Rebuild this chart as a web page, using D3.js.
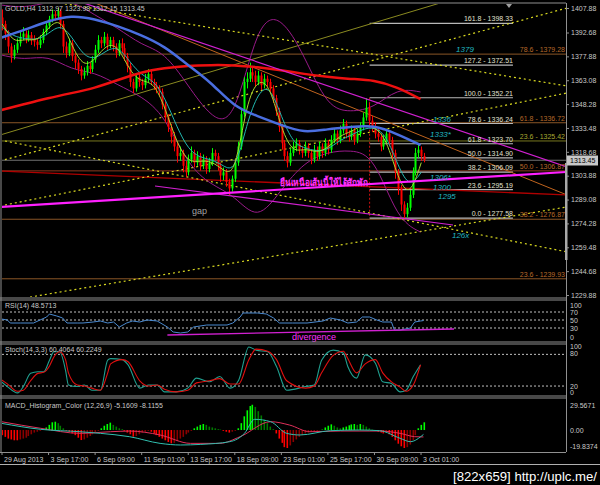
<!DOCTYPE html>
<html><head><meta charset="utf-8">
<script src="https://cdn.jsdelivr.net/npm/d3@7"></script>
<style>body{margin:0;background:#000;}svg{display:block;}text{font-family:"Liberation Sans",Arial,sans-serif;}</style>
</head><body>
<svg id="c" width="600" height="485"></svg>
<script>
// ---------------- DATA ----------------
const closes = [1398,1392,1384,1378,1382,1386,1390,1392,1389,1391,1388,1387,1385,1388,1393,1397,1401,1404,1403,1406,
1398,1384,1380,1386,1378,1374,1370,1366,1368,1372,1370,1376,1382,1388,1386,1390,1385,1388,1384,1380,
1386,1383,1378,1372,1362,1358,1365,1362,1360,1364,1367,1362,1360,1358,1356,1348,1340,1334,1328,1322,
1316,1318,1310,1306,1314,1318,1312,1316,1310,1314,1308,1312,1318,1316,1310,1304,1306,1300,1296,1302,
1312,1322,1342,1362,1364,1368,1366,1362,1366,1360,1364,1362,1358,1352,1344,1334,1324,1316,1312,1318,
1322,1324,1320,1318,1322,1318,1314,1320,1316,1322,1318,1324,1320,1326,1330,1326,1332,1336,1330,1328,
1332,1326,1330,1334,1340,1346,1338,1334,1330,1328,1322,1326,1330,1326,1318,1306,1296,1286,1280,1284,
1292,1306,1318,1320,1316,1313.45];
const firstOpen = 1402;
const highs = [1407,1400,1394,1386,1385,1389,1393,1396,1394,1394,1393,1391,1389,1391,1395,1399,1403,1407,1406,1408,
1407,1400,1387,1389,1388,1380,1376,1372,1371,1375,1374,1378,1385,1391,1390,1393,1392,1390,1390,1386,
1388,1389,1386,1380,1374,1364,1367,1367,1364,1367,1370,1369,1364,1362,1360,1358,1350,1342,1336,1331,
1325,1322,1320,1313,1317,1322,1320,1319,1318,1317,1316,1315,1321,1320,1318,1312,1309,1308,1302,1304,
1314,1325,1345,1365,1368,1374,1372,1369,1369,1368,1367,1366,1364,1360,1354,1346,1336,1326,1319,1321,
1325,1327,1326,1322,1325,1324,1320,1323,1322,1325,1324,1327,1326,1329,1333,1332,1335,1339,1338,1332,
1335,1334,1333,1337,1343,1352,1349,1341,1337,1333,1330,1329,1333,1332,1328,1320,1308,1298,1288,1287,
1295,1309,1321,1324,1322,1318];
const lows = [1394,1388,1380,1374,1376,1380,1384,1388,1386,1387,1385,1384,1382,1383,1386,1391,1395,1399,1400,1401,
1395,1380,1377,1378,1375,1370,1367,1363,1364,1366,1367,1368,1374,1380,1383,1384,1382,1383,1381,1377,
1378,1380,1375,1368,1359,1355,1356,1359,1357,1358,1362,1360,1357,1355,1353,1345,1337,1331,1324,1319,
1312,1313,1306,1303,1304,1312,1309,1310,1307,1308,1305,1306,1310,1313,1307,1300,1301,1297,1292,1294,
1300,1310,1320,1340,1358,1362,1362,1359,1360,1357,1358,1359,1355,1349,1341,1331,1320,1313,1309,1310,
1316,1319,1317,1315,1316,1315,1311,1312,1313,1314,1315,1316,1317,1318,1324,1323,1324,1330,1327,1325,
1326,1323,1324,1328,1332,1338,1335,1331,1327,1325,1319,1320,1324,1322,1314,1302,1292,1282,1277.58,1278,
1282,1290,1304,1315,1313,1312.15];

// moving averages sampled every 16 bars (bars 0,16,...,288)
const blueMA = [1389.6,1394.3,1399.8,1403.5,1401.1,1396.7,1391.1,1384.3,1372.5,1361.9,1346.4,1340.8,1335.3,1330.3,1332.8,1334.1,1335.3,1329.7,1322.9];
const redMA  = [1344.6,1348.3,1352.0,1355.1,1358.2,1363.2,1368.2,1370.6,1372.2,1372.5,1372.5,1371.2,1369.4,1366.9,1365.1,1363.8,1363.2,1358.9,1351.4];
const bandUpper = [1409.7,1407.9,1411.6,1412.8,1403.5,1395.5,1384.9,1380.6,1360.1,1339.6,1335.3,1400.4,1403.5,1378.7,1345.8,1343.3,1345.8,1358.3,1355.8];
const bandLower = [1378.7,1375.6,1378.7,1369.4,1368.2,1360.1,1353.3,1341.5,1310.5,1298.1,1291.9,1275.1,1295.0,1312.3,1318.6,1319.8,1316.7,1276.4,1268.9];
// fast averages sampled every 8 bars
const fastMA = [1398,1386,1389,1387,1396,1402,1384,1371,1376,1386,1384,1368,1362,1362,1346,1324,1312,1313,1313,1307,
1304,1350,1364,1360,1332,1318,1321,1318,1321,1329,1331,1336,1334,1327,1302,1290,1312];
const slowMA = [1396,1390,1389,1388,1392,1398,1390,1378,1376,1382,1384,1374,1366,1363,1352,1334,1320,1315,1314,1310,
1306,1336,1356,1360,1340,1324,1321,1319,1320,1326,1329,1333,1334,1329,1310,1296,1306];

// trendlines: [bar1, price1, bar2, price2]
const yellowDotted = [[40.2,1410.98,388.7,1359.5],[-1,1313.0,388.7,1407.88],[-1,1326.0,388.7,1256.6],[19.6,1228.6,388.7,1284.5],[-1,1285.1,388.7,1355.2]];
const oliveLines = [[-1,1329.1,308.2,1412.8]];
const orangeLines = [[64.3,1411.0,388.7,1291.9]];
const magentaThin = [[50.5,1412.8,388.7,1309.3],[105.5,1297.5,310.3,1273.3]];
const magentaThick = [[-1,1284.5,388.7,1306.2]];
const darkRedLines = [[-1,1306.8,388.7,1291.9]];
const fibAnchor = [[253,1352.21,253,1277.58]];

// fibonacci (white, right)
const fibLevels = ["161.8","127.2","100.0","78.6","61.8","50.0","38.2","23.6","0.0"];
const fibPrices = [1398.33,1372.51,1352.21,1336.24,1323.70,1314.90,1306.09,1295.19,1277.58];
const fibStartBar = 253, fibEndBar = 351.5;
// second fibonacci (orange, full width)
const fib2Levels = ["78.6","61.8","23.6","50.0","38.2","23.6"];
const fib2Prices = [1379.28,1336.72,1325.42,1306.87,1276.87,1239.93];
// cyan notes [bar, price]
const noteTexts = ["1379","1336","1333*","1306*","1300","1295","126x"];
const noteBars = [312.4,296.6,294.5,294.5,296.6,300.0,309.6];
const notePrices = [1380.6,1337.2,1327.9,1301.5,1295.3,1289.5,1265.2];

const priceTicks = [1407.88,1392.68,1377.88,1363.08,1348.28,1333.48,1318.68,1303.88,1289.08,1274.28,1259.48,1244.68,1229.88];
const lastPrice = 1313.45;
const timeTicks = [0,32,64,96,128,160,192,224,256,288];
const timeLabels = ["29 Aug 2013","3 Sep 17:00","6 Sep 09:00","11 Sep 01:00","13 Sep 17:00","18 Sep 09:00","23 Sep 01:00","25 Sep 17:00","30 Sep 09:00","3 Oct 01:00"];

// RSI readings [bar] / [value]
const rsiBars = [0,4,6,13,22,31,33,38,42,45,52,56,63,68,73,77,81,86,90,95,100,107,114,118,123,128,132,141,155,159,164,166,176,182,187,191,200,210,221,226,233,238,244,248,253,258,262,268,270,274,281,284,288,290];
const rsiVals = [52.5,50,42.5,42.5,42.5,57.5,65,60,55,42.5,42.5,42.5,45,47.5,42.5,45,32.5,42.5,47.5,45,50,47.5,32.5,20,17.5,20,32.5,37.5,37.5,42.5,57.5,67.5,67.5,65,55,42.5,42.5,42.5,47.5,55,50,42.5,45,57.5,57.5,50,45,45,25,25,30,45,47.5,48.57];
const rsiLevels = [70,50,30];
const divergence = [114,12.5,311,27.5];

// Stochastic readings
const stochBars = [0,4,11,15,20,25,29,33,36,40,44,46,52,57,62,68,73,75,83,87,95,101,107,112,120,128,134,143,150,157,163,170,175,183,189,196,209,215,220,228,235,238,244,250,257,262,268,274,278,283,288];
const stochMain = [28,19,7,19,44,47,47,69,85,85,50,22,19,22,12,12,69,72,70,60,16,22,22,9,9,16,35,28,38,16,31,94,88,85,57,12,19,22,69,88,82,57,35,79,63,28,25,9,12,38,60.41];
const stochSignal = [32,24,10,12,30,44,46,58,75,85,70,45,22,20,16,12,45,62,70,66,30,20,22,14,9,12,26,30,34,24,24,70,90,86,70,30,16,20,45,78,86,72,45,62,70,45,28,18,10,22,60.22];
const stochLevels = [80,20];

// MACD histogram, one value per 2 bars
const macdHist = [-6,-8,-10,-11,-12,-12,-11,-10,-9,-7,-5,-3,-2,-1,0.5,3,6,9,9.7,8,
5,2,-1,-2,-4,-6,-9,-11.7,-11,-9,-7,-5,-3,-1,2,5,7,8.6,6,4,
2,1,-1,-3,-5,-7.8,-7,-5,-3,-2,-1,-2,-4,-6,-8,-10,-12,-14,-15.6,-15,
-13,-10,-8,-5,-3,-1,2,4,6,7,6,4,3,2,1,0.5,-1,-2,-3,-2,
-1,2,8,16,23,28,29.5,27,22,17,12,8,4,1,-4,-10,-15,-20,-21,-18,
-14,-11,-8,-6,-4,-3,-2,-1.5,-1,-0.5,0.5,3,5,6.6,5,3,2,3,4,5.5,
6.5,7,6,7,6,4,2,0.5,-1,-2,-3,-4,-3,-5,-8,-12,-16,-19,-21,-20,
-17,-12,-6,2,6,9];
const macdMainBars = [0,27,54,68,88,109,123,137,157,167,174,185,196,205,226,246,260,274,281,290];
const macdMain = [7.8,0.8,-2,-3.9,-7.8,-15.6,-17.5,-16.8,-13.6,-3.9,12.5,9.7,-3.9,-5.8,-0.8,0,-0.8,-9.7,-13.6,-5.16];
const macdSigBars = [0,27,54,75,88,109,130,150,164,185,198,212,233,260,274,284,290];
const macdSig = [9.7,2,-3.9,-2,-1.2,-5.8,-15.6,-15.6,-7.8,9.7,5.8,-2,-1.2,-1.2,-3.9,-7.8,-8.12];

// ---------------- DRAW ----------------
const svg = d3.select("#c");
svg.append("rect").attr("width",600).attr("height",485).attr("fill","#000");
const X0 = 2, X1 = 566;
const xBar = d3.scaleLinear().domain([0,291]).range([1.5,1.5+291*1.455]);
const yP = d3.scaleLinear().domain([1229.88,1407.88]).range([295,8]);
const yR = d3.scaleLinear().domain([0,100]).range([340,300]);
const yS = d3.scaleLinear().domain([0,100]).range([396.6,343.8]);
const yM = d3.scaleLinear().domain([-19.8374,29.5671]).range([447,404.7]);

const defs = svg.append("defs");
function clip(id,y,h){defs.append("clipPath").attr("id",id).append("rect").attr("x",X0).attr("y",y).attr("width",X1-X0).attr("height",h);}
clip("cm",4,293); clip("cr",301,40); clip("cs",345,50); clip("cd",399,52);

const gMain = svg.append("g").attr("clip-path","url(#cm)");

// full-width horizontal lines (fib 2)
const fib2Line = ["#8a5526","#8a5526","#77771f","#8a3a20","#8a5526","#8a5526"];
const fib2Text = ["#b8692a","#b8692a","#a8a830","#b8692a","#b8692a","#b8692a"];
gMain.selectAll(".f2").data(fib2Prices).join("line")
  .attr("x1",X0).attr("x2",X1).attr("y1",d=>yP(d)).attr("y2",d=>yP(d))
  .attr("stroke",(d,i)=>fib2Line[i]).attr("stroke-width",1);

// bid line
gMain.append("line").attr("x1",X0).attr("x2",X1).attr("y1",yP(lastPrice)).attr("y2",yP(lastPrice)).attr("stroke","#707070");

// white fib
gMain.selectAll(".f1").data(fibPrices).join("line")
  .attr("x1",xBar(fibStartBar)).attr("x2",xBar(fibEndBar)).attr("y1",d=>yP(d)).attr("y2",d=>yP(d))
  .attr("stroke","#b8b8b8").attr("stroke-width",1.2);

function seg(g,arr,color,w,dash){
  g.selectAll(null).data(arr).join("line")
   .attr("x1",d=>xBar(d[0])).attr("y1",d=>yP(d[1])).attr("x2",d=>xBar(d[2])).attr("y2",d=>yP(d[3]))
   .attr("stroke",color).attr("stroke-width",w).attr("stroke-dasharray",dash||null);
}
seg(gMain,oliveLines,"#8a8a20",1);
seg(gMain,orangeLines,"#c0641e",1);
seg(gMain,darkRedLines,"#b00000",1.3);
seg(gMain,yellowDotted,"#d8d820",1.2,"2,3");
seg(gMain,fibAnchor,"#d01010",1,"2,2");

// bollinger
const b16 = blueMA.map((d,i)=>i*16);
const lineB = (vals,bars)=>d3.line().x((d,i)=>xBar(bars[i])).y(d=>yP(d)).curve(d3.curveBasis)(vals);
gMain.append("path").attr("d",lineB(bandUpper,b16)).attr("fill","none").attr("stroke","#9a1a8a").attr("stroke-width",1);
gMain.append("path").attr("d",lineB(bandLower,b16)).attr("fill","none").attr("stroke","#9a1a8a").attr("stroke-width",1);

// candles
const candles = closes.map((c,k)=>({o:k?closes[k-1]:firstOpen,c,h:highs[k],l:lows[k],bar:2*k+0.5}));
const cg = gMain.append("g");
cg.selectAll("line").data(candles).join("line")
  .attr("x1",d=>Math.round(xBar(d.bar))+0.5).attr("x2",d=>Math.round(xBar(d.bar))+0.5)
  .attr("y1",d=>yP(d.h)).attr("y2",d=>yP(d.l))
  .attr("stroke",d=>d.c>=d.o?"#00ff00":"#ff0000");
cg.selectAll("rect").data(candles).join("rect")
  .attr("x",d=>Math.round(xBar(d.bar))-0.5).attr("width",2)
  .attr("y",d=>yP(Math.max(d.o,d.c))).attr("height",d=>Math.max(1,Math.abs(yP(d.o)-yP(d.c))))
  .attr("fill",d=>d.c>=d.o?"#00ff00":"#ff0000");

// fast MAs
const b8 = fastMA.map((d,i)=>i*8+0.5);
gMain.append("path").attr("d",lineB(slowMA,b8)).attr("fill","none").attr("stroke","#22b8b0").attr("stroke-width",1);
gMain.append("path").attr("d",lineB(fastMA,b8)).attr("fill","none").attr("stroke","#a8d830").attr("stroke-width",1);

// slow MAs
gMain.append("path").attr("d",lineB(redMA,b16)).attr("fill","none").attr("stroke","#ee1010").attr("stroke-width",2.5);
gMain.append("path").attr("d",lineB(blueMA,b16)).attr("fill","none").attr("stroke","#4a6ee0").attr("stroke-width",2.5);

seg(gMain,magentaThin,"#d020d0",1.2);
seg(gMain,magentaThick,"#ff20ff",2.2);

// fib labels
gMain.selectAll(".fl1").data(fibPrices).join("text")
  .attr("x",xBar(fibEndBar)).attr("y",d=>yP(d)-2).attr("text-anchor","end")
  .attr("font-size",7).attr("fill","#e0e0d0").text((d,i)=>fibLevels[i]+" - "+d.toFixed(2));
gMain.selectAll(".fl2").data(fib2Prices).join("text")
  .attr("x",X1-1).attr("y",d=>yP(d)-2).attr("text-anchor","end")
  .attr("font-size",7).attr("fill",(d,i)=>fib2Text[i]).text((d,i)=>fib2Levels[i]+" - "+d.toFixed(2));

// cyan notes
gMain.selectAll(".nt").data(noteTexts).join("text")
  .attr("x",(d,i)=>xBar(noteBars[i])).attr("y",(d,i)=>yP(notePrices[i]))
  .attr("font-size",8).attr("font-style","italic").attr("fill","#20b8c0").text(d=>d);

gMain.append("text").attr("x",280).attr("y",186).attr("font-size",10).attr("font-weight","bold")
  .attr("textLength",88).attr("lengthAdjust","spacingAndGlyphs")
  .attr("fill","#ff30ff").text("ยืนเหนือเส้นนี้ให้ได้สักพัก");
gMain.append("text").attr("x",192).attr("y",214).attr("font-size",9).attr("fill","#a0a0a0").text("gap");

gMain.append("text").attr("x",5).attr("y",11).attr("font-size",7).attr("fill","#c8c8c8").text("GOLD,H4  1312.97 1323.98 1312.15 1313.45");

// ---- RSI panel
const gR = svg.append("g").attr("clip-path","url(#cr)");
gR.selectAll("line").data(rsiLevels).join("line").attr("x1",X0).attr("x2",X1)
  .attr("y1",d=>yR(d)).attr("y2",d=>yR(d)).attr("stroke","#c0c0c0").attr("stroke-dasharray","2,2");
gR.append("path").attr("d",d3.line().x((d,i)=>xBar(rsiBars[i])).y(d=>yR(d))(rsiVals))
  .attr("fill","none").attr("stroke","#4a8ad0").attr("stroke-width",1);
gR.append("line").attr("x1",xBar(divergence[0])).attr("y1",yR(divergence[1])).attr("x2",xBar(divergence[2])).attr("y2",yR(divergence[3]))
  .attr("stroke","#d020d0").attr("stroke-width",1.3);
gR.append("text").attr("x",5).attr("y",308).attr("font-size",7).attr("fill","#c8c8c8").text("RSI(14) 48.5713");
svg.append("text").attr("x",292).attr("y",340).attr("font-size",9).attr("fill","#ff30ff").text("divergence");

// ---- Stoch panel
const gS = svg.append("g").attr("clip-path","url(#cs)");
gS.selectAll("line").data(stochLevels).join("line").attr("x1",X0).attr("x2",X1)
  .attr("y1",d=>yS(d)).attr("y2",d=>yS(d)).attr("stroke","#c0c0c0").attr("stroke-dasharray","2,2");
const lineS = (vals,bars)=>d3.line().x((d,i)=>xBar(bars[i])).y(d=>yS(d)).curve(d3.curveMonotoneX)(vals);
gS.append("path").attr("d",lineS(stochMain,stochBars)).attr("fill","none").attr("stroke","#20a090").attr("stroke-width",1.1);
gS.append("path").attr("d",lineS(stochSignal,stochBars)).attr("fill","none").attr("stroke","#e01010").attr("stroke-width",1.1);
gS.append("text").attr("x",5).attr("y",352).attr("font-size",7).attr("fill","#c8c8c8").text("Stoch(14,3,3) 60.4064 60.2249");

// ---- MACD panel
const gD = svg.append("g").attr("clip-path","url(#cd)");
gD.selectAll("rect").data(macdHist).join("rect")
  .attr("x",(d,i)=>Math.round(xBar(2*i+0.5))-0.5).attr("width",1.6)
  .attr("y",d=>yM(Math.max(0,d))).attr("height",d=>Math.abs(yM(d)-yM(0)))
  .attr("fill",(d,i)=>{const p=i?macdHist[i-1]:d; if(d>=0) return d>=p?"#00ff00":"#007a00"; return d<=p?"#ff0000":"#8a0000";});
const lineM = (vals,bars)=>d3.line().x((d,i)=>xBar(bars[i])).y(d=>yM(d)).curve(d3.curveMonotoneX)(vals);
gD.append("path").attr("d",lineM(macdSig,macdSigBars)).attr("fill","none").attr("stroke","#e0305a").attr("stroke-width",1);
gD.append("path").attr("d",lineM(macdMain,macdMainBars)).attr("fill","none").attr("stroke","#30c0b0").attr("stroke-width",1);
gD.append("text").attr("x",5).attr("y",408).attr("font-size",7).attr("fill","#c8c8c8").text("MACD_Histogram_Color (12,26,9)  -5.1609 -8.1155");

// ---- frames
const frame = "#909090";
[[298,300],[342,344],[396,398]].forEach(p=>{p.forEach(y=>svg.append("line").attr("x1",0).attr("x2",X1).attr("y1",y).attr("y2",y).attr("stroke",frame).attr("stroke-width",1));});
svg.append("line").attr("x1",0).attr("x2",X1).attr("y1",3).attr("y2",3).attr("stroke",frame);
svg.append("line").attr("x1",1).attr("x2",1).attr("y1",3).attr("y2",452).attr("stroke",frame);
svg.append("line").attr("x1",0).attr("x2",600).attr("y1",464.5).attr("y2",464.5).attr("stroke","#b0b0b0");

// price axis
const ax = svg.append("g").attr("transform",`translate(${X1},0)`)
  .call(d3.axisRight(yP).tickValues(priceTicks).tickFormat(d3.format(".2f")).tickSize(3));
ax.select(".domain").attr("stroke",frame).attr("d","M0.5,3V452");
ax.selectAll("line").attr("stroke",frame);
ax.selectAll("text").attr("fill","#c8c8c8").attr("font-size",7).attr("font-family","Liberation Sans").attr("x",5);
svg.append("rect").attr("x",565).attr("y",163).attr("width",2.5).attr("height",97).attr("fill","#a8a8a8");
svg.append("rect").attr("x",567).attr("y",155.5).attr("width",31).attr("height",10).attr("fill","#c8c8c8");
svg.append("text").attr("x",570).attr("y",163).attr("font-size",7).attr("fill","#000").text(lastPrice.toFixed(2));

// indicator axes
const rsiLab = [[100,305],[70,312],[50,320],[30,328],[0,337]];
const stLab = [[100,346],[80,353],[20,386],[0,392]];
function sideLabels(arr){arr.forEach(a=>svg.append("text").attr("x",570).attr("y",a[1]+2.5).attr("font-size",7).attr("fill","#c8c8c8").text(a[0]));}
sideLabels(rsiLab); sideLabels(stLab);
[[29.5671,405],[0,430],[-19.8374,446]].forEach(a=>svg.append("text").attr("x",570).attr("y",a[1]+2.5).attr("font-size",7).attr("fill","#c8c8c8").text(a[0]===0?"0.00":a[0]));

// time axis
const tx = svg.append("g").attr("transform","translate(0,452)")
  .call(d3.axisBottom(xBar).tickValues(timeTicks).tickFormat((d,i)=>timeLabels[i]).tickSize(3));
tx.select(".domain").attr("stroke",frame).attr("d","M0,0.5H566");
tx.selectAll("line").attr("stroke",frame);
tx.selectAll("text").attr("fill","#c8c8c8").attr("font-size",7).attr("font-family","Liberation Sans").attr("text-anchor","start").attr("dx",2).attr("y",5);

// top marker
svg.append("path").attr("d","M506,4 L512,4 L509,8 Z").attr("fill","#a0a0a0");

svg.append("text").attr("x",453).attr("y",481).attr("font-size",12).attr("fill","#fff")
  .attr("font-family","DejaVu Sans Condensed").attr("textLength",144).attr("lengthAdjust","spacingAndGlyphs").text("[822x659] http://uplc.me/");
</script>
</body></html>
